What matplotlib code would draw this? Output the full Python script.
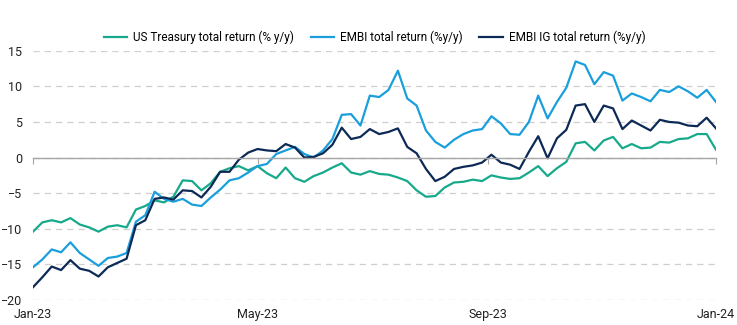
import matplotlib
matplotlib.use("Agg")
import matplotlib.pyplot as plt
import matplotlib.dates as mdates
import pandas as pd

# total returns, % y/y, sampled every 5 days through 2023
dates = pd.date_range("2023-01-01", periods=74, freq="5D")

ust = [-10.4, -9.1, -8.8, -9.1, -8.5, -9.4, -9.8, -10.4, -9.7, -9.5,
       -9.8, -7.3, -6.8, -6.0, -6.3, -5.5, -3.2, -3.3, -4.6, -3.6,
       -2.0, -1.5, -1.2, -1.8, -1.2, -2.2, -2.9, -1.4, -2.9, -3.4,
       -2.6, -2.1, -1.4, -0.8, -2.1, -2.4, -1.9, -2.3, -2.4, -2.8,
       -3.3, -4.6, -5.5, -5.4, -4.2, -3.5, -3.4, -3.1, -3.3, -2.5,
       -2.8, -3.0, -2.9, -2.1, -1.2, -2.6, -1.5, -0.6, 2.0, 2.2,
       1.0, 2.4, 2.9, 1.3, 1.9, 1.3, 1.4, 2.2, 2.1, 2.6,
       2.7, 3.3, 3.3, 1.1]

embi = [-15.4, -14.3, -12.9, -13.3, -11.9, -13.4, -14.3, -15.2, -14.1, -13.9,
        -13.4, -9.0, -8.1, -4.8, -5.8, -6.2, -5.8, -6.6, -6.8, -5.6,
        -4.5, -3.2, -2.9, -2.1, -1.2, -0.9, 0.5, 1.0, 1.5, 0.5,
        0.0, 1.0, 2.6, 6.0, 6.1, 4.5, 8.7, 8.5, 9.5, 12.2,
        8.3, 7.3, 3.8, 2.2, 1.4, 2.5, 3.3, 3.8, 4.0, 5.8,
        4.8, 3.3, 3.2, 5.0, 8.7, 5.5, 7.8, 9.8, 13.5, 13.0,
        10.3, 12.0, 11.5, 8.0, 9.0, 8.5, 7.9, 9.5, 9.2, 10.0,
        9.3, 8.4, 9.5, 7.8]

embi_ig = [-18.2, -16.8, -15.3, -15.8, -14.4, -15.6, -15.9, -16.7, -15.4, -14.8,
           -14.2, -9.5, -8.8, -5.8, -5.6, -5.9, -4.6, -4.7, -5.6, -4.1,
           -2.0, -2.0, -0.3, 0.7, 1.2, 1.0, 0.9, 1.9, 1.4, 0.0,
           0.1, 0.6, 1.8, 4.2, 2.6, 2.9, 4.0, 3.3, 3.6, 4.1,
           1.5, 0.6, -1.6, -3.3, -2.7, -1.6, -1.3, -1.1, -0.7, 0.4,
           -0.7, -1.0, -1.6, 0.8, 3.0, -0.1, 2.7, 3.9, 7.3, 7.5,
           5.0, 7.3, 6.9, 4.0, 5.2, 4.5, 3.8, 5.3, 5.0, 4.9,
           4.5, 4.4, 5.6, 4.1]

labels = ["US Treasury total return (% y/y)",
          "EMBI total return (%y/y)",
          "EMBI IG total return (%y/y)"]
colors = ["#17a98b", "#1a9fdc", "#0d2a56"]
tick_dates = pd.to_datetime(["2023-01-01", "2023-05-01", "2023-09-01", "2024-01-01"])

plt.rcParams["font.family"] = ["Roboto", "DejaVu Sans"]

fig = plt.figure(figsize=(7.37, 3.25), dpi=100)
ax = fig.add_axes([0.0448, 0.0769, 0.9267, 0.767])

for series, lab, col in zip([ust, embi, embi_ig], labels, colors):
    ax.plot(dates, series, color=col, lw=1.6, label=lab)

ax.set_xlim(dates[0], dates[-1])
ax.set_ylim(-20, 15)
ax.set_yticks(range(-20, 16, 5))
ax.yaxis.grid(True, color="#cfcfcf", lw=0.9, linestyle=(0, (5, 4)))
ax.set_axisbelow(True)

for side in ["top", "right", "left"]:
    ax.spines[side].set_visible(False)
ax.spines["bottom"].set_position(("data", 0))
ax.spines["bottom"].set_color("#a6a6a6")
ax.spines["bottom"].set_linewidth(1.0)

ax.set_xticks(tick_dates)
ax.xaxis.set_major_formatter(mdates.DateFormatter("%b-%y"))
ax.tick_params(axis="x", length=4, color="#a6a6a6", pad=104,
               labelsize=9, labelcolor="#222222")
ax.tick_params(axis="y", length=0, pad=8, labelsize=9, labelcolor="#222222")

ax.legend(loc="lower center", bbox_to_anchor=(0.5, 1.0), ncol=3, frameon=False,
          fontsize=8.5, handlelength=2.0, columnspacing=1.4, handletextpad=0.5,
          borderaxespad=0.2)

fig.savefig("out.png", dpi=100)
